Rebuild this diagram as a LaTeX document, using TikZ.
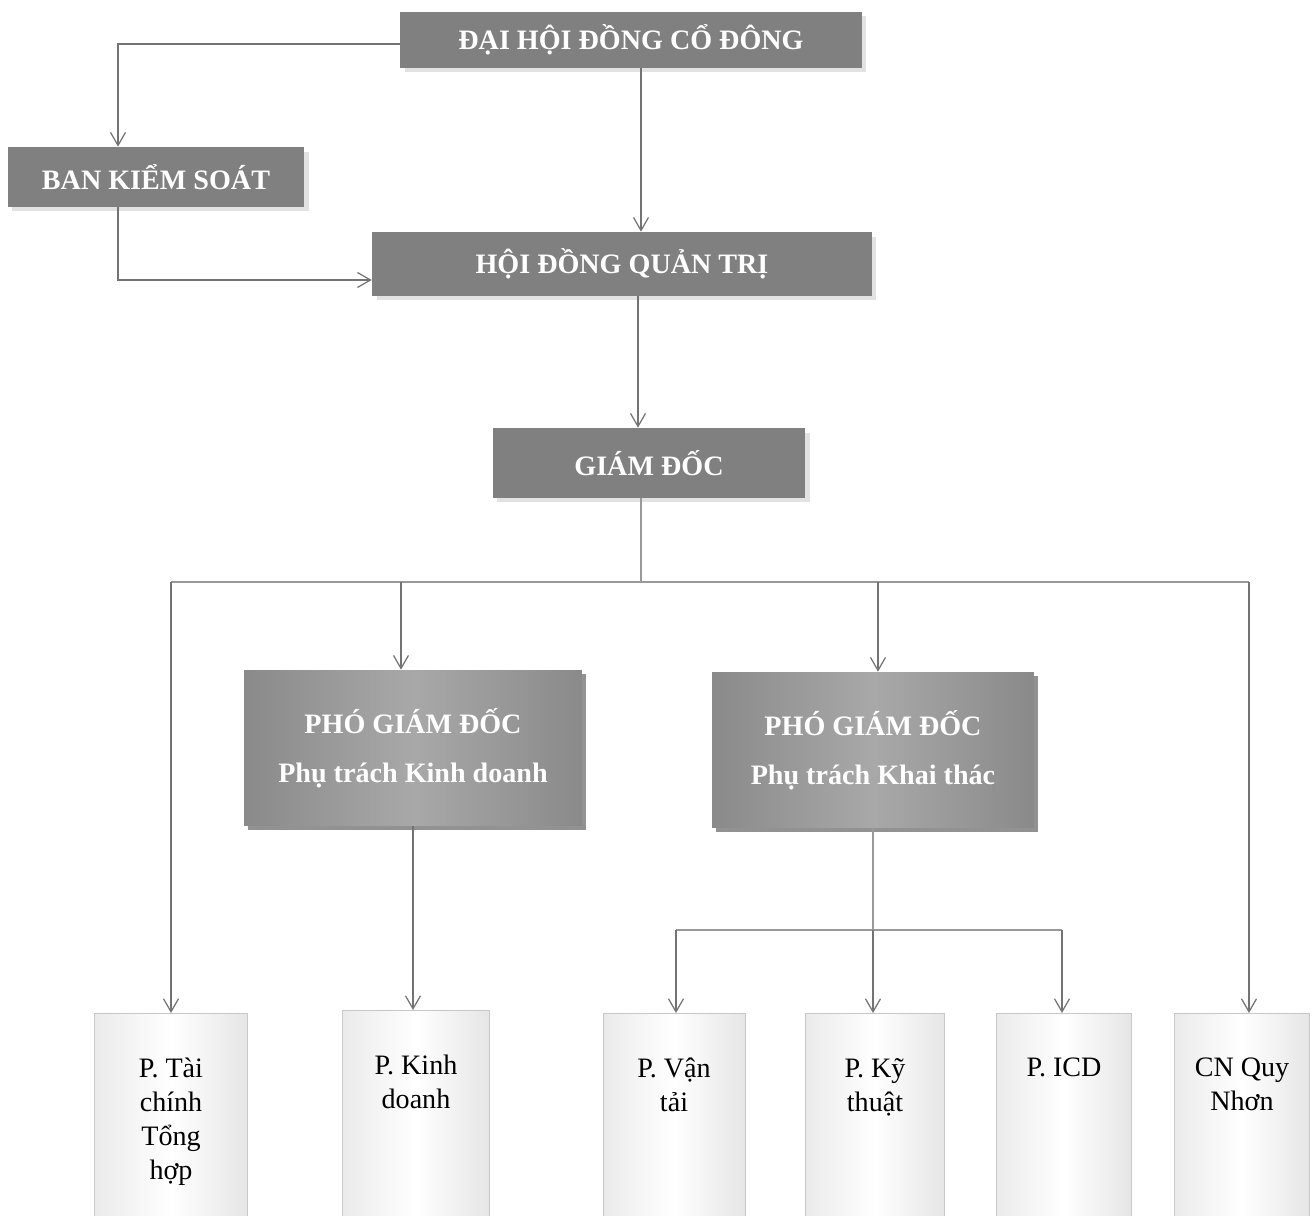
\documentclass[tikz,border=0pt]{standalone}
\usepackage{fontspec}
\setmainfont{Liberation Serif}
\usetikzlibrary{shapes}
\usetikzlibrary{arrows.meta}
\usetikzlibrary{shadows}

\begin{document}
\begin{tikzpicture}[x=0.02cm,y=-0.02cm]

      \tikzset{head/.style = {rectangle,inner sep=0pt,fill=black!50,text=white,
          font=\fontsize{16}{20}\selectfont\bfseries,
          drop shadow={fill=black!22,shadow xshift=0.09cm,shadow yshift=-0.09cm}}}
      \tikzset{deputy/.style = {rectangle,inner sep=0pt,align=center,text=white,
          left color=black!46,right color=black!46,middle color=black!34,
          font=\fontsize{16}{28}\selectfont\bfseries,minimum width=6.6cm,minimum height=3.12cm,
          drop shadow={fill=black!85,shadow xshift=0.08cm,shadow yshift=-0.08cm}}}
      \tikzset{dept/.style = {rectangle,anchor=north,inner xsep=0pt,inner ysep=0.9cm,
          draw=black!22,left color=black!8,right color=black!10,middle color=white,
          font=\fontsize{16}{19.3}\selectfont}}
      \tikzset{edge/.style = {-{Straight Barb[length=2.6mm,width=3mm]},draw=black!55,line width=0.7pt}}
      \tikzset{wire/.style = {-,draw=black!40,line width=0.7pt}}

      \clip (0,0) rectangle (1313,1216);
      \fill[white] (0,0) rectangle (1313,1216);

      % vertices
      \node[head,minimum width=9.24cm,minimum height=1.12cm] (dh) at (631,40) {ĐẠI HỘI ĐỒNG CỔ ĐÔNG};
      \node[head,minimum width=5.94cm,minimum height=1.2cm] (bks) at (156,177) {BAN KIỂM SOÁT};
      \node[head,minimum width=10cm,minimum height=1.28cm] (hdqt) at (622,264) {HỘI ĐỒNG QUẢN TRỊ};
      \node[head,minimum width=6.26cm,minimum height=1.4cm] (gd) at (649,463) {GIÁM ĐỐC};
      \node[deputy,minimum width=6.76cm] (pkd) at (413,748) {PHÓ GIÁM ĐỐC\\Phụ trách Kinh doanh};
      \node[deputy,minimum width=6.44cm] (pkt) at (873,750) {PHÓ GIÁM ĐỐC\\Phụ trách Khai thác};
      \node[dept] (tc) at (171,1013) {\parbox[t][3.6cm][t]{3.06cm}{\centering P. Tài\\chính\\Tổng\\hợp}};
      \node[dept] (kd) at (416,1010) {\parbox[t][3.6cm][t]{2.94cm}{\centering P. Kinh\\doanh}};
      \node[dept] (vt) at (674,1013) {\parbox[t][3.6cm][t]{2.84cm}{\centering P. Vận\\tải}};
      \node[dept] (kt) at (875,1013) {\parbox[t][3.6cm][t]{2.78cm}{\centering P. Kỹ\\thuật}};
      \node[dept] (icd) at (1064,1013) {\parbox[t][3.6cm][t]{2.7cm}{\centering P. ICD}};
      \node[dept] (cn) at (1242,1013) {\parbox[t][3.6cm][t]{2.7cm}{\centering CN Quy\\Nhơn}};

      \coordinate (bl) at (171,582);
      \coordinate (br) at (1249,582);
      \coordinate (b2) at (401,582);
      \coordinate (b3) at (878,582);
      \coordinate (cl) at (676,930);
      \coordinate (cr) at (1062,930);

      %edges
      \draw[edge] ([yshift=-0.08cm]dh.west) -| ([xshift=-0.76cm]bks.north);
      \draw[edge] ([xshift=0.2cm]dh.south) -- ([xshift=0.2cm]dh.south |- hdqt.north);
      \draw[edge] ([xshift=-0.76cm]bks.south) |- ([yshift=-0.32cm]hdqt.west);
      \draw[edge] ([xshift=0.32cm]hdqt.south) -- ([xshift=0.32cm]hdqt.south |- gd.north);
      \draw[wire] ([xshift=-0.16cm]gd.south) -- ([xshift=-0.16cm]gd.south |- bl);
      \draw[wire] (bl) -- (br);
      \draw[edge] (bl) -- (tc.north);
      \draw[edge] (b2) -- (b2 |- pkd.north);
      \draw[edge] (b3) -- (b3 |- pkt.north);
      \draw[edge] (br) -- (br |- cn.north);
      \draw[edge] (pkd.south) -- (pkd.south |- kd.north);
      \draw[wire] (pkt.south) -- (pkt.south |- cl);
      \draw[wire] (cl) -- (cr);
      \draw[edge] (cl) -- (cl |- vt.north);
      \draw[edge] (pkt.south |- cl) -- (pkt.south |- kt.north);
      \draw[edge] (cr) -- (cr |- icd.north);
\end{tikzpicture}
\end{document}
